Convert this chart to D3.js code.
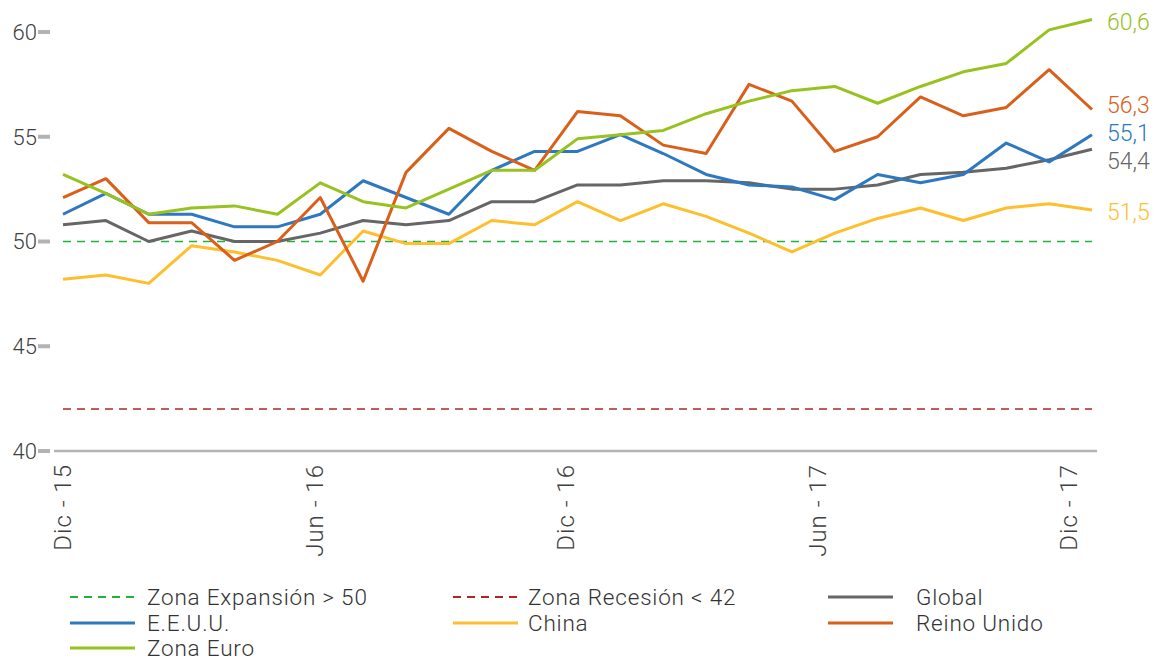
<!DOCTYPE html>
<html>
<head>
<meta charset="utf-8">
<script src="https://cdn.jsdelivr.net/npm/d3@7"></script>
<style>
  body { margin: 0; background: #fff; }
  text { font-family: "Roboto", "Liberation Sans", sans-serif; font-weight: 300; }
</style>
</head>
<body>
<div class="chart"></div>
<script>
// months shown on the x axis (Dic-15 .. Dic-17)
var months = ["Dic-15","Ene-16","Feb-16","Mar-16","Abr-16","May-16","Jun-16","Jul-16","Ago-16","Sep-16","Oct-16","Nov-16",
  "Dic-16","Ene-17","Feb-17","Mar-17","Abr-17","May-17","Jun-17","Jul-17","Ago-17","Sep-17","Oct-17","Nov-17","Dic-17"];
var tickMonths = ["Dic-15","Jun-16","Dic-16","Jun-17","Dic-17"];
var tickLabels = ["Dic - 15","Jun - 16","Dic - 16","Jun - 17","Dic - 17"];
var yTicks = [40, 45, 50, 55, 60];

var globalVals = [50.8,51.0,50.0,50.5,50.0,50.0,50.4,51.0,50.8,51.0,51.9,51.9,52.7,52.7,52.9,52.9,52.8,52.5,52.5,52.7,53.2,53.3,53.5,53.9,54.4];
var usVals     = [51.3,52.3,51.3,51.3,50.7,50.7,51.3,52.9,52.1,51.3,53.4,54.3,54.3,55.1,54.2,53.2,52.7,52.6,52.0,53.2,52.8,53.2,54.7,53.8,55.1];
var chinaVals  = [48.2,48.4,48.0,49.8,49.5,49.1,48.4,50.5,49.9,49.9,51.0,50.8,51.9,51.0,51.8,51.2,50.4,49.5,50.4,51.1,51.6,51.0,51.6,51.8,51.5];
var ukVals     = [52.1,53.0,50.9,50.9,49.1,50.0,52.1,48.1,53.3,55.4,54.3,53.4,56.2,56.0,54.6,54.2,57.5,56.7,54.3,55.0,56.9,56.0,56.4,58.2,56.3];
var euroVals   = [53.2,52.3,51.3,51.6,51.7,51.3,52.8,51.9,51.6,52.5,53.4,53.4,54.9,55.1,55.3,56.1,56.7,57.2,57.4,56.6,57.4,58.1,58.5,60.1,60.6];

var expansionLevel = 50;
var recessionLevel = 42;

var series = [
  {name: "Global", values: globalVals, color: "#666666", label: "54,4"},
  {name: "E.E.U.U.", values: usVals, color: "#2e78c0", label: "55,1"},
  {name: "China", values: chinaVals, color: "#fdbf2d", label: "51,5"},
  {name: "Reino Unido", values: ukVals, color: "#d9601a", label: "56,3"},
  {name: "Zona Euro", values: euroVals, color: "#98c21f", label: "60,6"}
];

var svgWidth = 1157, svgHeight = 661;

var svg = d3.select(".chart").append("svg")
  .attr("width", svgWidth)
  .attr("height", svgHeight);

var x = d3.scalePoint().domain(months).range([63, 1092]);
// the month labels sit a little tighter than the points in the original
var xLabel = d3.scalePoint().domain(months).range([63, 1069]);
var y = d3.scaleLinear().domain([40, 60]).range([451, 32]);

// baseline
svg.append("line")
  .attr("x1", 54).attr("x2", 1097)
  .attr("y1", y(40)).attr("y2", y(40))
  .attr("stroke", "#b3b3b3").attr("stroke-width", 2.5);

// y axis: labels + short thick ticks
var yAxis = svg.append("g").attr("class", "y-axis");
yAxis.selectAll("rect")
  .data(yTicks)
  .enter()
  .append("rect")
  .attr("x", 38).attr("width", 12)
  .attr("y", d => y(d) - 2).attr("height", 4)
  .attr("fill", "#b3b3b3");
yAxis.selectAll("text")
  .data(yTicks)
  .enter()
  .append("text")
  .attr("x", 37)
  .attr("y", d => y(d))
  .attr("dy", "0.36em")
  .attr("text-anchor", "end")
  .attr("font-size", 22)
  .attr("fill", "#404040")
  .text(d => d);

// x labels, rotated
svg.append("g").selectAll("text")
  .data(tickMonths)
  .enter()
  .append("text")
  .attr("transform", d => `translate(${xLabel(d) + 8}, 464) rotate(-90)`)
  .attr("text-anchor", "end")
  .attr("font-size", 24)
  .attr("letter-spacing", 1)
  .attr("fill", "#404040")
  .text((d, i) => tickLabels[i]);

// reference lines
svg.append("line")
  .attr("x1", x(months[0])).attr("x2", x(months[months.length - 1]))
  .attr("y1", y(expansionLevel)).attr("y2", y(expansionLevel))
  .attr("stroke", "#1fb33a").attr("stroke-width", 1.5)
  .attr("stroke-dasharray", "8,6");
svg.append("line")
  .attr("x1", x(months[0])).attr("x2", x(months[months.length - 1]))
  .attr("y1", y(recessionLevel)).attr("y2", y(recessionLevel))
  .attr("stroke", "#b22525").attr("stroke-width", 1.5)
  .attr("stroke-dasharray", "8,6");

// series lines
var line = d3.line()
  .x((d, i) => x(months[i]))
  .y(d => y(d));

svg.append("g").selectAll("path")
  .data(series)
  .enter()
  .append("path")
  .attr("d", d => line(d.values))
  .attr("fill", "none")
  .attr("stroke", d => d.color)
  .attr("stroke-width", 3)
  .attr("stroke-linejoin", "round");

// end labels, pushed apart so they don't overlap
var ends = series.map(s => ({s: s, y: y(s.values[s.values.length - 1])}));
ends.sort((a, b) => a.y - b.y);
var gap = 28;
var clusters = ends.map(e => ({items: [e], mean: e.y}));
var merged = true;
while (merged) {
  merged = false;
  for (var i = 0; i < clusters.length - 1; i++) {
    var a = clusters[i], b = clusters[i + 1];
    var aBottom = a.mean + (a.items.length - 1) * gap / 2;
    var bTop = b.mean - (b.items.length - 1) * gap / 2;
    if (bTop - aBottom < gap) {
      var items = a.items.concat(b.items);
      var mean = d3.mean(items, e => e.y);
      clusters.splice(i, 2, {items: items, mean: mean});
      merged = true;
      break;
    }
  }
}
clusters.forEach(c => {
  c.items.forEach((e, k) => { e.ly = c.mean + (k - (c.items.length - 1) / 2) * gap; });
});

svg.append("g").selectAll("text")
  .data(ends)
  .enter()
  .append("text")
  .attr("x", 1107)
  .attr("y", d => d.ly + 2)
  .attr("dy", "0.36em")
  .attr("font-size", 23)
  .attr("fill", d => d.s.color)
  .text(d => d.s.label);

// legend
var legendItems = [
  {name: "Zona Expansión > 50", color: "#1fb33a", dash: "8,6"},
  {name: "Zona Recesión < 42", color: "#b22525", dash: "8,6"},
  {name: "Global", color: "#666666"},
  {name: "E.E.U.U.", color: "#2e78c0"},
  {name: "China", color: "#fdbf2d"},
  {name: "Reino Unido", color: "#d9601a"},
  {name: "Zona Euro", color: "#98c21f"}
];
var colX = [70, 453, 828];
var textX = [147, 528, 916];
var rowY = [597, 623, 648];

var legend = svg.append("g").attr("class", "legend");
legendItems.forEach((item, i) => {
  var col = i % 3, row = Math.floor(i / 3);
  legend.append("line")
    .attr("x1", colX[col]).attr("x2", colX[col] + 65)
    .attr("y1", rowY[row]).attr("y2", rowY[row])
    .attr("stroke", item.color)
    .attr("stroke-width", item.dash ? 2 : 3)
    .attr("stroke-dasharray", item.dash || null);
  legend.append("text")
    .attr("x", textX[col])
    .attr("y", rowY[row])
    .attr("dy", "0.34em")
    .attr("font-size", 22.5)
    .attr("letter-spacing", 0.8)
    .attr("fill", "#333333")
    .text(item.name);
});
</script>
</body>
</html>
